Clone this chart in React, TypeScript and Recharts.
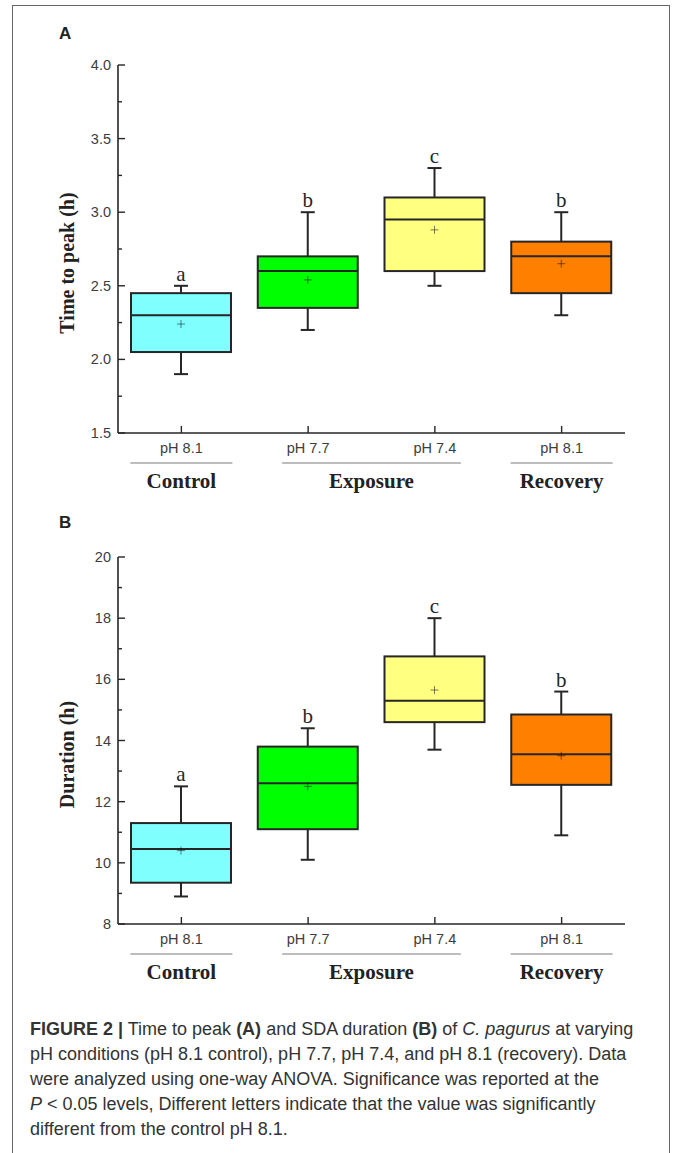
import React from 'react';
import { ComposedChart, Bar, XAxis, YAxis } from 'recharts';

// Treatment categories along the x axis
const categories = ['pH 8.1', 'pH 7.7', 'pH 7.4', 'pH 8.1'];
const groups = [
  { name: 'Control', first: 0, last: 0 },
  { name: 'Exposure', first: 1, last: 2 },
  { name: 'Recovery', first: 3, last: 3 },
];

// Panel A: time to peak (h)
const peakMin = [1.9, 2.2, 2.5, 2.3];
const peakQ1 = [2.05, 2.35, 2.6, 2.45];
const peakMedian = [2.3, 2.6, 2.95, 2.7];
const peakQ3 = [2.45, 2.7, 3.1, 2.8];
const peakMax = [2.5, 3.0, 3.3, 3.0];
const peakMean = [2.24, 2.54, 2.88, 2.65];
const peakLetters = ['a', 'b', 'c', 'b'];
const peakTicks = [1.5, 1.75, 2.0, 2.25, 2.5, 2.75, 3.0, 3.25, 3.5, 3.75, 4.0];

// Panel B: SDA duration (h)
const durMin = [8.9, 10.1, 13.7, 10.9];
const durQ1 = [9.35, 11.1, 14.6, 12.55];
const durMedian = [10.45, 12.6, 15.3, 13.55];
const durQ3 = [11.3, 13.8, 16.75, 14.85];
const durMax = [12.5, 14.4, 18.0, 15.6];
const durMean = [10.4, 12.5, 15.65, 13.5];
const durLetters = ['a', 'b', 'c', 'b'];
const durTicks = [8, 9, 10, 11, 12, 13, 14, 15, 16, 17, 18, 19, 20];

const boxFills = ['#80ffff', '#00ff00', '#ffff80', '#ff8000'];
const INK = '#262626';
const SANS = '"Liberation Sans", Arial, sans-serif';
const SERIF = '"Liberation Serif", "Times New Roman", serif';

const buildRows = (mins, q1s, meds, q3s, maxs, means, letters) =>
  categories.map((label, i) => ({
    label,
    min: mins[i],
    q1: q1s[i],
    median: meds[i],
    q3: q3s[i],
    max: maxs[i],
    mean: means[i],
    letter: letters[i],
  }));

const peakRows = buildRows(peakMin, peakQ1, peakMedian, peakQ3, peakMax, peakMean, peakLetters);
const durRows = buildRows(durMin, durQ1, durMedian, durQ3, durMax, durMean, durLetters);

// The bar spans min..max; everything else is placed on that same pixel span
const BoxShape = (props: any) => {
  const { x, y, width, height, payload, index } = props;
  const { min, max, q1, median, q3, mean, letter } = payload;
  const py = (v: number) => y + ((max - v) / (max - min)) * height;
  const cx = x + width / 2;
  const cap = 7;
  const boxTop = py(q3);
  const boxBottom = py(q1);
  const my = py(mean);
  return (
    <g>
      <line x1={cx} x2={cx} y1={py(max)} y2={boxTop} stroke={INK} strokeWidth={2} />
      <line x1={cx} x2={cx} y1={boxBottom} y2={py(min)} stroke={INK} strokeWidth={2} />
      <line x1={cx - cap} x2={cx + cap} y1={py(max)} y2={py(max)} stroke={INK} strokeWidth={2} />
      <line x1={cx - cap} x2={cx + cap} y1={py(min)} y2={py(min)} stroke={INK} strokeWidth={2} />
      <rect
        x={x}
        y={boxTop}
        width={width}
        height={boxBottom - boxTop}
        fill={boxFills[index]}
        stroke={INK}
        strokeWidth={2}
      />
      <line x1={x} x2={x + width} y1={py(median)} y2={py(median)} stroke={INK} strokeWidth={2} />
      <line x1={cx - 4} x2={cx + 4} y1={my} y2={my} stroke="rgba(0,0,0,0.5)" strokeWidth={1} />
      <line x1={cx} x2={cx} y1={my - 4} y2={my + 4} stroke="rgba(0,0,0,0.5)" strokeWidth={1} />
      <text x={cx} y={py(max) - 5} textAnchor="middle" fontFamily={SERIF} fontSize={21} fill={INK}>
        {letter}
      </text>
    </g>
  );
};

const makeYTick = (isMajor: (v: number) => boolean, fmt: (v: number) => string) => (props: any) => {
  const { x, y, payload } = props;
  const major = isMajor(payload.value);
  return (
    <g>
      <line x1={x} x2={x + (major ? 7 : 4)} y1={y} y2={y} stroke={INK} strokeWidth={1.4} />
      {major && (
        <text x={x - 7} y={y} dy={5} textAnchor="end" fontFamily={SANS} fontSize={14.5} fill="#3d3d3d">
          {fmt(payload.value)}
        </text>
      )}
    </g>
  );
};

const XTick = (props: any) => {
  const { x, y, payload, index, width } = props;
  const band = width ? width / categories.length : 127;
  const group = groups.find((g) => g.first === index);
  let extra = null;
  if (group) {
    const pad = group.first === group.last ? 51 : 26;
    const x1 = x - pad;
    const x2 = x + (group.last - group.first) * band + pad;
    extra = (
      <g>
        <line x1={x1} x2={x2} y1={y + 30} y2={y + 30} stroke="#bdbdbd" strokeWidth={2} />
        <text
          x={(x1 + x2) / 2}
          y={y + 55}
          textAnchor="middle"
          fontFamily={SERIF}
          fontWeight="bold"
          fontSize={21}
          fill="#222"
        >
          {group.name}
        </text>
      </g>
    );
  }
  return (
    <g>
      <line x1={x} x2={x} y1={y} y2={y - 7} stroke={INK} strokeWidth={1.4} />
      <text x={x} y={y + 20} textAnchor="middle" fontFamily={SANS} fontSize={14.5} fill="#3d3d3d">
        {payload.value}
      </text>
      {extra}
    </g>
  );
};

const yTitle = (text: string) => (props: any) => {
  const { viewBox } = props;
  const cx = viewBox.x + viewBox.width - 51;
  const cy = viewBox.y + viewBox.height / 2 + 14;
  return (
    <text
      x={cx}
      y={cy}
      transform={`rotate(-90 ${cx} ${cy})`}
      textAnchor="middle"
      dominantBaseline="central"
      fontFamily={SERIF}
      fontWeight="bold"
      fontSize={20}
      fill="#222"
    >
      {text}
    </text>
  );
};

const BoxPanel = ({ rows, domain, ticks, title, isMajor, fmt, marginTop, marginBottom }: any) => (
  <ComposedChart
    width={675}
    height={500}
    data={rows}
    margin={{ top: marginTop, right: 50, bottom: marginBottom, left: 58 }}
  >
    <XAxis
      dataKey="label"
      height={60}
      tickSize={0}
      tickMargin={0}
      interval={0}
      axisLine={{ stroke: INK, strokeWidth: 1.6 }}
      tickLine={false}
      tick={<XTick />}
    />
    <YAxis
      type="number"
      domain={domain}
      ticks={ticks}
      interval={0}
      width={60}
      tickSize={0}
      tickMargin={0}
      allowDataOverflow
      axisLine={{ stroke: INK, strokeWidth: 1.6 }}
      tickLine={false}
      tick={makeYTick(isMajor, fmt)}
      label={{ content: yTitle(title) }}
    />
    <Bar
      dataKey={(d: any) => [d.min, d.max]}
      barSize={100}
      shape={BoxShape}
      isAnimationActive={false}
    />
  </ComposedChart>
);

export default function App() {
  return (
    <div
      style={{
        position: 'absolute',
        left: 0,
        top: 0,
        width: 675,
        height: 1153,
        overflow: 'hidden',
        background: '#fff',
      }}
    >
      <div
        style={{
          position: 'absolute',
          left: 12,
          top: 5,
          width: 656,
          height: 1200,
          borderLeft: '1.5px solid #666',
          borderTop: '1.5px solid #666',
          borderRight: '1.5px solid #666',
        }}
      />
      <div style={{ position: 'absolute', left: 59, top: 24, font: `bold 17px ${SANS}`, color: '#222' }}>A</div>
      <div style={{ position: 'absolute', left: 59, top: 513, font: `bold 17px ${SANS}`, color: '#222' }}>B</div>
      <div style={{ position: 'absolute', left: 0, top: 0 }}>
        <BoxPanel
          rows={peakRows}
          domain={[1.5, 4]}
          ticks={peakTicks}
          title="Time to peak (h)"
          isMajor={(v: number) => Math.abs(v * 2 - Math.round(v * 2)) < 1e-6}
          fmt={(v: number) => v.toFixed(1)}
          marginTop={65}
          marginBottom={7}
        />
      </div>
      <div style={{ position: 'absolute', left: 0, top: 490 }}>
        <BoxPanel
          rows={durRows}
          domain={[8, 20]}
          ticks={durTicks}
          title="Duration (h)"
          isMajor={(v: number) => v % 2 === 0}
          fmt={(v: number) => String(v)}
          marginTop={67}
          marginBottom={6}
        />
      </div>
      <div
        style={{
          position: 'absolute',
          left: 30,
          top: 1017,
          width: 630,
          fontFamily: SANS,
          fontSize: 18,
          lineHeight: '25px',
          color: '#333',
          whiteSpace: 'nowrap',
        }}
      >
        <b>FIGURE 2 |</b> Time to peak <b>(A)</b> and SDA duration <b>(B)</b> of <i>C. pagurus</i> at varying
        <br />
        pH conditions (pH 8.1 control), pH 7.7, pH 7.4, and pH 8.1 (recovery). Data
        <br />
        were analyzed using one-way ANOVA. Significance was reported at the
        <br />
        <i>P</i> &lt; 0.05 levels, Different letters indicate that the value was significantly
        <br />
        different from the control pH 8.1.
      </div>
    </div>
  );
}
